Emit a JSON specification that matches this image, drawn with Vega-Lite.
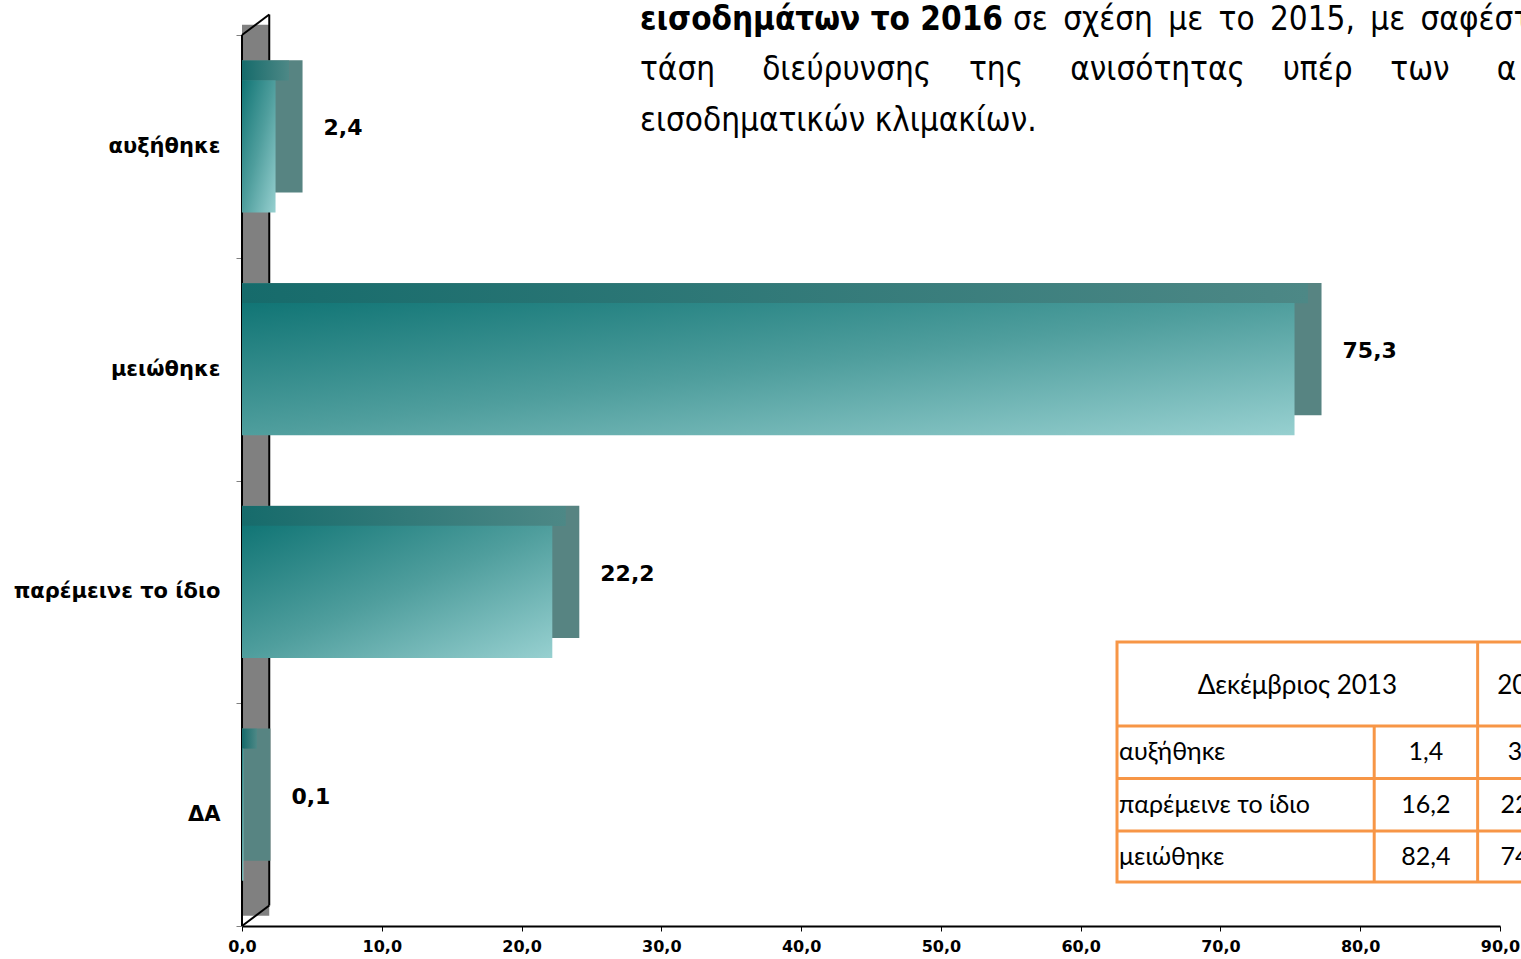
{
  "$schema": "https://vega.github.io/schema/vega-lite/v6.json",
  "width": 1258,
  "height": 891,
  "autosize": {"type": "none"},
  "padding": {"left": 242, "top": 35, "right": 21, "bottom": 33},
  "background": "white",
  "config": {
    "view": {"stroke": null},
    "font": "DejaVu Sans",
    "locale": {"number": {"decimal": ",", "thousands": ".", "grouping": [3], "currency": ["", " €"]}}
  },
  "resolve": {"scale": {"y": "independent"}},
  "layer": [
    {
      "data": {"values": [{}]},
      "encoding": {
        "y": {"datum": 0, "type": "quantitative", "scale": {"domain": [0, 100], "nice": false, "zero": false}, "axis": null}
      },
      "layer": [
        {
          "mark": {"type": "rect", "fill": "#808080"},
          "encoding": {"x": {"datum": 0, "type": "quantitative"}, "x2": {"datum": 1.95}, "y": {"datum": 1.15, "type": "quantitative"}, "y2": {"datum": 101.15}}
        },
        {
          "mark": {"type": "rule", "stroke": "#000000", "strokeWidth": 2},
          "encoding": {"x": {"datum": 0, "type": "quantitative"}, "y": {"datum": 0, "type": "quantitative"}, "y2": {"datum": 100}}
        },
        {
          "mark": {"type": "rule", "stroke": "#000000", "strokeWidth": 2},
          "encoding": {"x": {"datum": 1.95, "type": "quantitative"}, "y": {"datum": 2.3, "type": "quantitative"}, "y2": {"datum": 102.3}}
        },
        {
          "mark": {"type": "rule", "stroke": "#000000", "strokeWidth": 2},
          "encoding": {"x": {"datum": 0, "type": "quantitative"}, "x2": {"datum": 1.95}, "y": {"datum": 100, "type": "quantitative"}, "y2": {"datum": 102.3}}
        },
        {
          "mark": {"type": "rule", "stroke": "#000000", "strokeWidth": 2},
          "encoding": {"x": {"datum": 0, "type": "quantitative"}, "x2": {"datum": 1.95}, "y": {"datum": 0, "type": "quantitative"}, "y2": {"datum": 2.3}}
        }
      ]
    },
    {
      "data": {"values": [
        {"answer": "αυξήθηκε", "pct": 2.4},
        {"answer": "μειώθηκε", "pct": 75.3},
        {"answer": "παρέμεινε το ίδιο", "pct": 22.2},
        {"answer": "ΔΑ", "pct": 0.1}
      ]},
      "encoding": {
        "x": {
          "field": "pct", "type": "quantitative",
          "scale": {"domain": [0, 90], "nice": false, "zero": true},
          "axis": {
            "title": null, "values": [0, 10, 20, 30, 40, 50, 60, 70, 80, 90], "format": ".1f",
            "grid": false, "domainColor": "#000000", "domainWidth": 2, "tickColor": "#000000",
            "tickSize": 5, "tickWidth": 1, "labelFont": "DejaVu Sans", "labelFontWeight": "bold",
            "labelFontSize": 16, "labelColor": "#000000", "labelPadding": 7,
            "labelFlush": false, "labelOverlap": false
          }
        },
        "y": {
          "field": "answer", "type": "nominal", "sort": null,
          "scale": {"paddingInner": 0, "paddingOuter": 0},
          "axis": {
            "title": null, "domain": false, "ticks": true, "tickBand": "extent",
            "tickColor": "#808080", "tickSize": 6, "labelFont": "DejaVu Sans",
            "labelFontWeight": "bold", "labelFontSize": 21, "labelColor": "#000000",
            "labelPadding": 16, "labelLimit": 400
          }
        }
      },
      "layer": [
        {
          "mark": {"type": "bar", "fill": "#578482", "xOffset": 27, "yOffset": -20, "height": {"band": 0.593}},
          "encoding": {"x2": {"datum": 0}}
        },
        {
          "mark": {
            "type": "bar", "xOffset": 13.5, "yOffset": -76, "height": 20,
            "fill": {"gradient": "linear", "x1": 0, "y1": 0, "x2": 1, "y2": 0,
              "stops": [{"offset": 0, "color": "#166b6b"}, {"offset": 1, "color": "#4d8886"}]}
          },
          "encoding": {"x2": {"datum": 0}}
        },
        {
          "mark": {
            "type": "bar", "height": {"band": 0.593},
            "fill": {"gradient": "linear", "x1": 0, "y1": 0, "x2": 1, "y2": 1,
              "stops": [{"offset": 0, "color": "#117575"}, {"offset": 0.5, "color": "#4f9e9d"}, {"offset": 1, "color": "#97d0d0"}]}
          },
          "encoding": {"x2": {"datum": 0}}
        },
        {
          "mark": {"type": "text", "align": "left", "baseline": "middle", "dx": 48, "dy": -18, "font": "DejaVu Sans", "fontWeight": "bold", "fontSize": 22, "color": "#000000"},
          "encoding": {"text": {"field": "pct", "type": "quantitative", "format": ".1f"}}
        }
      ]
    },
    {
      "data": {"values": [{}]},
      "encoding": {
        "y": {"datum": 100, "type": "quantitative", "scale": {"domain": [0, 100], "nice": false, "zero": false}, "axis": null}
      },
      "layer": [
        {
          "mark": {"type": "text", "align": "left", "baseline": "alphabetic", "font": "DejaVu Sans Condensed", "fontWeight": "bold", "fontSize": 33, "color": "#000000"},
          "encoding": {"x": {"datum": 28.47, "type": "quantitative"}, "y": {"datum": 100.56, "type": "quantitative"}, "text": {"value": "εισοδημάτων το 2016"}}
        },
        {
          "mark": {"type": "text", "align": "left", "baseline": "alphabetic", "font": "DejaVu Sans Condensed", "fontSize": 33, "color": "#000000"},
          "encoding": {"x": {"datum": 55.16, "type": "quantitative"}, "y": {"datum": 100.56, "type": "quantitative"}, "text": {"value": "σε\u00a0\u2009σχέση\u00a0\u2009με\u00a0\u2009το\u00a0\u20092015,\u00a0\u2009με\u00a0\u2009σαφέστατη"}}
        },
        {
          "mark": {"type": "text", "align": "left", "baseline": "alphabetic", "font": "DejaVu Sans Condensed", "fontSize": 33, "color": "#000000"},
          "encoding": {"x": {"datum": 28.47, "type": "quantitative"}, "y": {"datum": 94.95, "type": "quantitative"}, "text": {"value": "τάση\u00a0\u00a0\u00a0\u00a0\u00a0διεύρυνσης\u00a0\u00a0\u00a0\u00a0της\u00a0\u00a0\u00a0\u00a0\u00a0ανισότητας\u00a0\u00a0\u00a0\u00a0υπέρ\u00a0\u00a0\u00a0\u00a0των\u00a0\u00a0\u00a0\u00a0\u00a0α"}}
        },
        {
          "mark": {"type": "text", "align": "left", "baseline": "alphabetic", "font": "DejaVu Sans Condensed", "fontSize": 33, "color": "#000000"},
          "encoding": {"x": {"datum": 28.47, "type": "quantitative"}, "y": {"datum": 89.2, "type": "quantitative"}, "text": {"value": "εισοδηματικών κλιμακίων."}}
        }
      ]
    },
    {
      "data": {"values": [
        {"answer": "αυξήθηκε", "dec2013": 1.4, "y2014": 3.2},
        {"answer": "παρέμεινε το ίδιο", "dec2013": 16.2, "y2014": 22.4},
        {"answer": "μειώθηκε", "dec2013": 82.4, "y2014": 74.4}
      ]},
      "encoding": {
        "y": {"field": "answer", "type": "nominal", "sort": null,
          "scale": {"type": "point", "domain": ["αυξήθηκε", "παρέμεινε το ίδιο", "μειώθηκε"], "range": [717, 822], "padding": 0},
          "axis": null}
      },
      "layer": [
        {
          "data": {"values": [{}]},
          "mark": {"type": "rect", "fill": "white", "stroke": "#F79646", "strokeWidth": 3, "yOffset": -110, "y2Offset": 25},
          "encoding": {
            "x": {"datum": 62.6, "type": "quantitative"}, "x2": {"datum": 94.7},
            "y": {"datum": "αυξήθηκε", "type": "nominal"}, "y2": {"datum": "μειώθηκε"}
          }
        },
        {
          "mark": {"type": "rule", "stroke": "#F79646", "strokeWidth": 3, "yOffset": -26},
          "encoding": {"x": {"datum": 62.6, "type": "quantitative"}, "x2": {"datum": 94.7}}
        },
        {
          "mark": {"type": "rule", "stroke": "#F79646", "strokeWidth": 3, "yOffset": -26, "y2Offset": 26},
          "encoding": {"x": {"datum": 81.0, "type": "quantitative"}, "y2": {"field": "answer"}}
        },
        {
          "data": {"values": [{}]},
          "mark": {"type": "rule", "stroke": "#F79646", "strokeWidth": 3, "yOffset": -110, "y2Offset": 25},
          "encoding": {"x": {"datum": 88.4, "type": "quantitative"}, "y": {"datum": "αυξήθηκε", "type": "nominal"}, "y2": {"datum": "μειώθηκε"}}
        },
        {
          "mark": {"type": "text", "align": "left", "baseline": "middle", "font": "Lato", "fontSize": 25, "color": "#000000"},
          "encoding": {"x": {"datum": 62.75, "type": "quantitative"}, "text": {"field": "answer"}}
        },
        {
          "mark": {"type": "text", "align": "center", "baseline": "middle", "font": "Lato", "fontSize": 25, "color": "#000000"},
          "encoding": {"x": {"datum": 84.7, "type": "quantitative"}, "text": {"field": "dec2013", "type": "quantitative", "format": ".1f"}}
        },
        {
          "mark": {"type": "text", "align": "center", "baseline": "middle", "font": "Lato", "fontSize": 25, "color": "#000000"},
          "encoding": {"x": {"datum": 91.8, "type": "quantitative"}, "text": {"field": "y2014", "type": "quantitative", "format": ".1f"}}
        },
        {
          "data": {"values": [{}]},
          "mark": {"type": "text", "align": "center", "baseline": "middle", "font": "Lato", "fontSize": 26, "color": "#000000", "dy": -66},
          "encoding": {"x": {"datum": 75.5, "type": "quantitative"}, "y": {"datum": "αυξήθηκε", "type": "nominal"}, "text": {"value": "Δεκέμβριος 2013"}}
        },
        {
          "data": {"values": [{}]},
          "mark": {"type": "text", "align": "left", "baseline": "middle", "font": "Lato", "fontSize": 26, "color": "#000000", "dy": -66},
          "encoding": {"x": {"datum": 89.8, "type": "quantitative"}, "y": {"datum": "αυξήθηκε", "type": "nominal"}, "text": {"value": "2014"}}
        }
      ]
    }
  ]
}
